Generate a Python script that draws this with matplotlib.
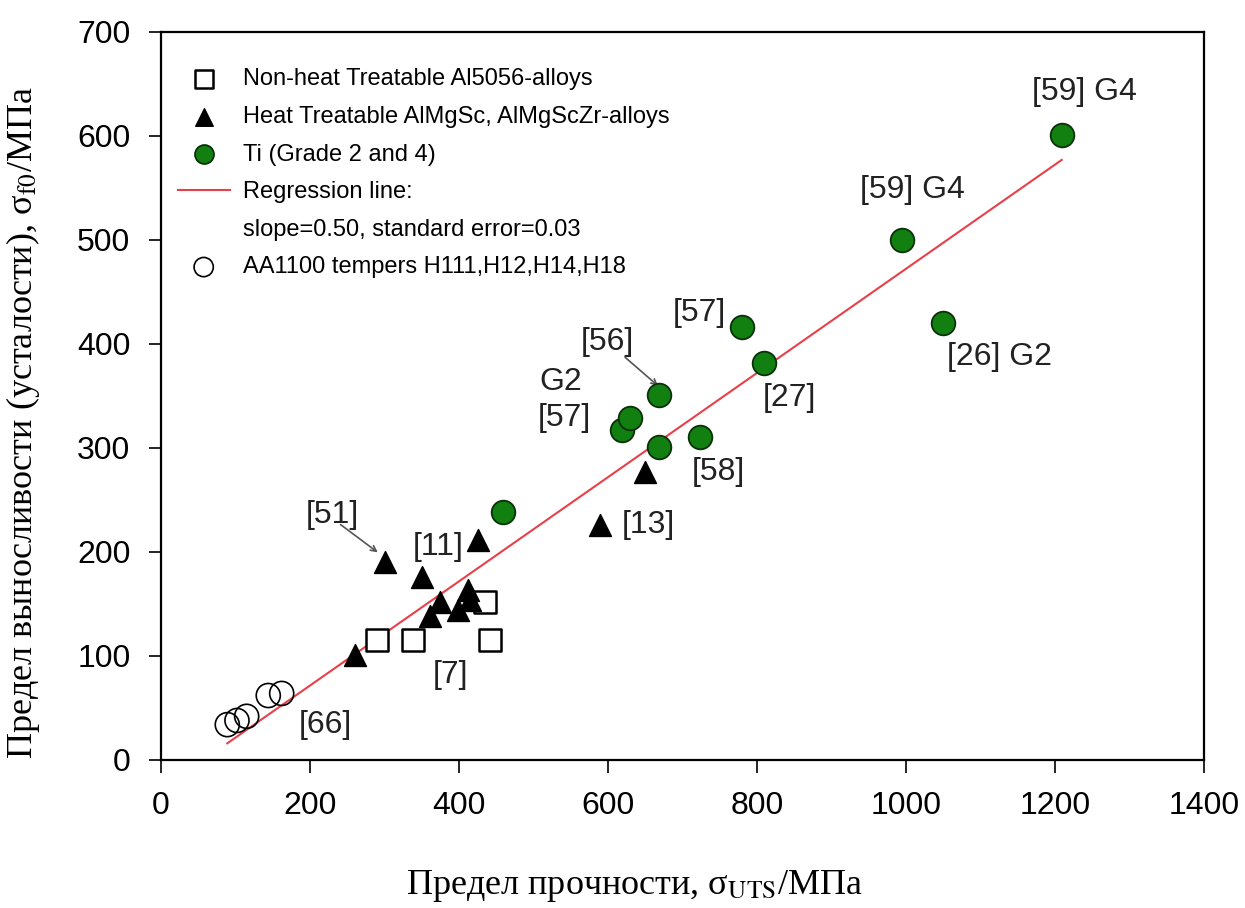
import numpy as np
import matplotlib.pyplot as plt
from matplotlib.lines import Line2D

plt.rcParams['font.family'] = ['Liberation Sans', 'DejaVu Sans']
plt.rcParams['mathtext.fontset'] = 'stix'

# data
sq_x = [290, 338, 435, 442]
sq_y = [115, 115, 152, 115]

tri_x = [260, 301, 350, 361, 374, 399, 412, 415, 425, 589, 650]
tri_y = [101, 190, 176, 138, 152, 144, 163, 154, 212, 226, 277]

ti_x = [459, 619, 630, 668, 668, 723, 780, 809, 995, 1050, 1209]
ti_y = [238, 317, 329, 301, 351, 311, 416, 382, 500, 420, 601]

aa_x = [89, 102, 115, 144, 162]
aa_y = [34, 38, 42, 62, 64]

reg_x = [89, 1209]
reg_y = [16, 577]

labels = [('[59] G4', 1240, 642), ('[59] G4', 1009, 548), ('[26] G2', 1126, 387),
          ('[57]', 723, 430), ('[27]', 844, 348), ('[56]', 599, 402),
          ('G2', 536, 363), ('[57]', 542, 329), ('[58]', 748, 277),
          ('[13]', 654, 226), ('[51]', 230, 236), ('[11]', 372, 205),
          ('[7]', 388, 82), ('[66]', 220, 34)]

arrows = [((620, 389), (670, 358)), ((238, 228), (294, 198))]

fig = plt.figure(figsize=(12.45, 9.08), dpi=100)
ax = fig.add_axes([0.1293, 0.163, 0.8378, 0.8018])

ax.plot(reg_x, reg_y, color='#e8404a', lw=1.5, zorder=1, label='Regression line:')
ax.scatter(sq_x, sq_y, marker='s', s=260, facecolors='white', edgecolors='black',
           linewidths=1.8, zorder=3, label='Non-heat Treatable Al5056-alloys')
ax.scatter(tri_x, tri_y, marker='^', s=250, color='black', zorder=3,
           label='Heat Treatable AlMgSc, AlMgScZr-alloys')
ax.scatter(ti_x, ti_y, marker='o', s=290, facecolors='#118011', edgecolors='#0a300a',
           linewidths=1.3, zorder=4, label='Ti (Grade 2 and 4)')
ax.scatter(aa_x, aa_y, marker='o', s=300, facecolors='none', edgecolors='black',
           linewidths=1.2, zorder=2, label='AA1100 tempers H111,H12,H14,H18')

for t, x, y in labels:
    ax.text(x, y, t, fontsize=23, ha='center', va='center', color='#222222')
for (x0, y0), (x1, y1) in arrows:
    ax.annotate('', xy=(x1, y1), xytext=(x0, y0),
                arrowprops=dict(arrowstyle='->', color='#555555', lw=1.2))

h, l = ax.get_legend_handles_labels()
blank = Line2D([], [], linestyle='none')
handles = [h[1], h[2], h[3], h[0], blank, h[4]]
texts = [l[1], l[2], l[3], l[0], 'slope=0.50, standard error=0.03', l[4]]
leg = ax.legend(handles, texts, loc='upper left',
                frameon=False, fontsize=17, labelspacing=0.66, handlelength=2.2,
                handletextpad=0.55, borderaxespad=0.0, bbox_to_anchor=(0.007, 0.963),
                markerscale=0.8)

ax.set_xlim(0, 1400)
ax.set_ylim(0, 700)
ax.set_xticks(np.arange(0, 1401, 200))
ax.set_yticks(np.arange(0, 701, 100))
ax.tick_params(labelsize=23, direction='out', length=9, width=1.2, pad=13)
for s in ax.spines.values():
    s.set_linewidth(1.6)

ax.set_xlabel('Предел прочности, σ$_{\\mathrm{UTS}}$/МПа', family='Liberation Serif',
              fontsize=26, labelpad=28)
ax.xaxis.set_label_coords(0.454, -0.148)
ax.set_ylabel('Предел выносливости (усталости), σ$_{\\mathrm{f0}}$/МПа', family='Liberation Serif',
              fontsize=26)
ax.yaxis.set_label_coords(-0.114, 0.464)

fig.savefig('out.png', dpi=100)
